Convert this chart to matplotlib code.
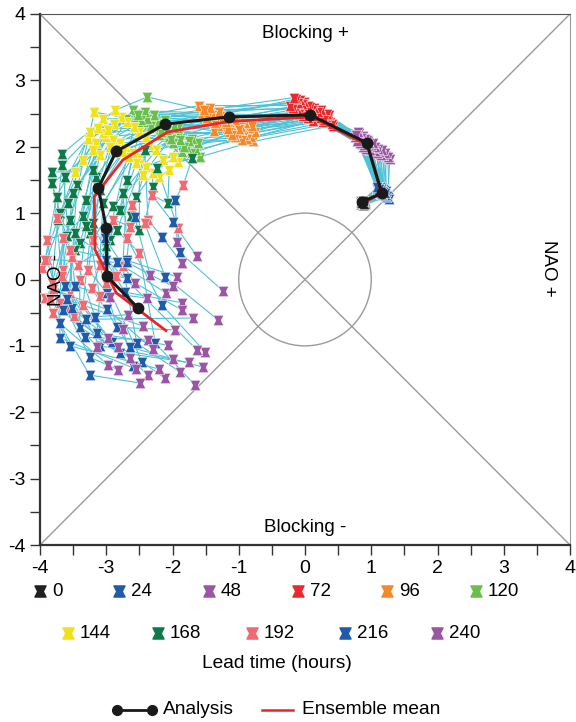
import matplotlib
matplotlib.use("Agg")
import matplotlib.pyplot as plt
from matplotlib.path import Path
from matplotlib.patches import Circle
from matplotlib.lines import Line2D
from matplotlib.ticker import MultipleLocator

plt.rcParams["font.family"] = ["Liberation Sans", "DejaVu Sans"]
plt.rcParams["axes.unicode_minus"] = False

# ------------------------------------------------
# Data: ensemble members (40) at each lead time
# ------------------------------------------------
lead_times = [0, 24, 48, 72, 96, 120, 144, 168, 192, 216, 240]
lead_colors = ["#231f20", "#1f5ba8", "#9a55a5", "#e9292c", "#f5892a", "#6abf4b",
               "#efe21b", "#0e7a4b", "#ef6a72", "#1f5ba8", "#9a55a5"]

x0 = [0.88, 0.86, 0.90, 0.87, 0.89, 0.85, 0.91, 0.88, 0.86, 0.90, 0.87, 0.89, 0.88, 0.85, 0.90, 0.87, 0.89, 0.86, 0.91, 0.88,
      0.87, 0.89, 0.86, 0.90, 0.88, 0.85, 0.89, 0.87, 0.90, 0.86, 0.88, 0.91, 0.87, 0.89, 0.85, 0.88, 0.90, 0.86, 0.89, 0.87]
y0 = [1.15, 1.13, 1.18, 1.16, 1.12, 1.17, 1.14, 1.19, 1.15, 1.13, 1.17, 1.16, 1.12, 1.18, 1.14, 1.15, 1.19, 1.13, 1.16, 1.17,
      1.14, 1.12, 1.18, 1.15, 1.16, 1.13, 1.17, 1.14, 1.19, 1.15, 1.12, 1.16, 1.18, 1.13, 1.15, 1.17, 1.14, 1.16, 1.13, 1.18]

x24 = [1.25, 1.22, 1.27, 1.20, 1.23, 1.18, 1.21, 1.24, 1.16, 1.19, 1.22, 1.15, 1.17, 1.20, 1.13, 1.18, 1.21, 1.14, 1.16, 1.19,
       1.12, 1.15, 1.18, 1.11, 1.14, 1.17, 1.10, 1.13, 1.16, 1.12, 1.15, 1.09, 1.13, 1.11, 1.14, 1.10, 1.12, 1.08, 1.11, 1.09]
y24 = [1.24, 1.27, 1.22, 1.29, 1.25, 1.28, 1.31, 1.26, 1.30, 1.27, 1.33, 1.29, 1.32, 1.28, 1.31, 1.34, 1.30, 1.33, 1.29, 1.35,
       1.32, 1.30, 1.36, 1.33, 1.31, 1.37, 1.34, 1.32, 1.38, 1.35, 1.33, 1.36, 1.39, 1.34, 1.37, 1.40, 1.35, 1.38, 1.36, 1.39]

x48 = [1.28, 1.22, 1.25, 1.18, 1.20, 1.15, 1.12, 1.16, 1.08, 1.10, 1.05, 1.02, 1.06, 0.98, 1.00, 0.96, 1.03, 0.94, 0.92, 0.97,
       0.90, 0.95, 0.88, 0.93, 0.86, 0.91, 0.84, 0.89, 0.85, 0.82, 0.87, 0.80, 0.83, 0.79, 0.84, 0.78, 0.81, 0.76, 0.80, 0.77]
y48 = [1.82, 1.86, 1.84, 1.88, 1.90, 1.87, 1.92, 1.95, 1.90, 1.96, 1.93, 1.98, 2.00, 1.95, 2.02, 1.99, 2.05, 2.01, 1.97, 2.06,
       2.03, 2.08, 2.00, 2.10, 2.04, 2.12, 2.07, 2.02, 2.14, 2.09, 2.16, 2.11, 2.05, 2.18, 2.13, 2.08, 2.20, 2.15, 2.22, 2.17]

x72 = [0.42, 0.38, 0.35, 0.40, 0.32, 0.30, 0.36, 0.27, 0.25, 0.33, 0.22, 0.28, 0.20, 0.18, 0.24, 0.15, 0.12, 0.19, 0.10, 0.14,
       0.08, 0.05, 0.11, 0.02, 0.07, 0.00, -0.03, 0.04, -0.06, -0.01, -0.09, -0.04, -0.12, -0.07, -0.15, -0.10, -0.18, -0.13, -0.22, -0.17]
y72 = [2.32, 2.38, 2.42, 2.35, 2.45, 2.40, 2.48, 2.43, 2.37, 2.50, 2.46, 2.41, 2.52, 2.44, 2.55, 2.49, 2.39, 2.53, 2.47, 2.58,
       2.51, 2.44, 2.56, 2.49, 2.60, 2.53, 2.46, 2.62, 2.55, 2.68, 2.50, 2.64, 2.57, 2.70, 2.52, 2.66, 2.59, 2.72, 2.62, 2.74]

x96 = [-0.78, -0.82, -0.75, -0.88, -0.85, -0.92, -0.80, -0.95, -0.98, -0.90, -1.02, -0.96, -1.05, -1.08, -1.00, -1.12, -1.15, -1.06, -1.18, -1.10,
       -1.22, -1.25, -1.16, -1.28, -1.20, -1.32, -1.35, -1.26, -1.38, -1.30, -1.42, -1.36, -1.45, -1.40, -1.50, -1.44, -1.55, -1.48, -1.60, -1.52]
y96 = [2.08, 2.15, 2.22, 2.12, 2.28, 2.18, 2.32, 2.10, 2.25, 2.36, 2.20, 2.30, 2.14, 2.38, 2.26, 2.33, 2.22, 2.41, 2.29, 2.17,
       2.44, 2.35, 2.27, 2.47, 2.38, 2.31, 2.50, 2.42, 2.24, 2.53, 2.45, 2.36, 2.56, 2.48, 2.40, 2.58, 2.51, 2.44, 2.62, 2.55]

x120 = [-1.58, -1.65, -1.72, -1.62, -1.78, -1.70, -1.85, -1.75, -1.90, -1.82, -1.95, -1.88, -2.00, -1.92, -2.05, -1.98, -2.10, -2.02, -2.15, -2.08,
        -2.20, -2.12, -2.25, -2.18, -2.30, -2.22, -2.35, -2.28, -2.40, -2.32, -2.45, -2.38, -2.50, -2.42, -2.55, -2.48, -2.60, -2.52, -2.70, -2.38]
y120 = [1.85, 1.95, 1.90, 2.05, 1.98, 2.12, 1.92, 2.08, 2.18, 2.00, 2.22, 2.10, 2.05, 2.28, 2.15, 2.32, 2.20, 2.12, 2.36, 2.25,
        2.18, 2.40, 2.30, 2.22, 2.44, 2.35, 2.28, 2.48, 2.38, 2.32, 2.50, 2.42, 2.36, 2.52, 2.45, 2.40, 2.55, 2.48, 2.42, 2.75]

x144 = [-1.92, -2.05, -2.20, -2.00, -2.30, -2.15, -2.40, -2.25, -2.50, -2.35, -2.45, -2.60, -2.40, -2.55, -2.70, -2.50, -2.65, -2.80, -2.58, -2.75,
        -2.90, -2.68, -2.85, -3.00, -2.78, -2.95, -3.05, -2.88, -3.10, -2.98, -3.15, -3.05, -3.20, -3.12, -3.28, -3.18, -3.35, -3.25, -3.47, -2.87]
y144 = [1.77, 1.65, 1.54, 1.85, 1.60, 1.80, 1.70, 1.95, 1.83, 2.02, 1.58, 1.90, 2.15, 1.75, 1.98, 2.22, 1.85, 2.05, 2.30, 1.92,
        2.10, 2.38, 1.96, 2.15, 2.45, 2.00, 2.20, 2.35, 1.88, 2.25, 2.05, 2.42, 1.95, 2.28, 2.12, 2.52, 1.80, 2.22, 1.62, 2.55]

x168 = [-1.70, -2.07, -2.23, -2.42, -2.30, -2.55, -2.62, -2.75, -2.50, -2.84, -2.90, -2.68, -3.05, -2.95, -3.10, -2.80, -3.20, -3.15, -3.00, -3.30,
        -3.25, -3.44, -3.35, -3.20, -3.50, -3.40, -3.47, -3.58, -3.30, -3.62, -3.47, -3.70, -3.55, -3.67, -3.75, -3.60, -3.82, -3.73, -3.82, -3.67]
y168 = [1.83, 1.15, 1.68, 1.95, 1.40, 1.25, 0.95, 1.30, 0.75, 0.74, 1.10, 1.50, 1.15, 0.60, 1.35, 1.05, 0.85, 1.55, 0.50, 1.20,
        0.70, 1.42, 0.95, 1.65, 1.30, 0.55, 0.70, 1.15, 0.80, 1.55, 0.44, 1.00, 0.90, 1.72, 1.25, 0.65, 1.45, 0.90, 1.62, 1.89]

x192 = [-1.84, -2.31, -1.92, -2.37, -2.42, -2.61, -2.64, -2.69, -2.90, -2.50, -3.20, -2.75, -3.10, -3.00, -3.27, -3.22, -2.85, -3.35, -3.43, -3.52,
        -3.10, -3.55, -3.65, -3.40, -3.65, -3.80, -3.60, -3.90, -3.89, -3.70, -3.92, -3.97, -3.82, -3.75, -3.92, -3.80, -3.55, -3.85, -3.67, -3.48]
y192 = [1.42, 1.27, 0.78, 0.90, 0.85, 1.12, 0.79, 0.63, 0.90, 0.40, 0.60, 0.20, 0.22, -0.05, 0.14, -0.13, 0.05, -0.38, 0.22, 0.34,
        -0.25, -0.20, 0.62, 0.00, 0.14, -0.50, -0.45, 0.30, 0.60, -0.35, -0.28, 0.17, -0.05, 0.92, 0.30, -0.15, 0.45, -0.30, 0.05, -0.55]

x216 = [-1.96, -2.00, -1.89, -2.16, -2.11, -2.57, -2.69, -2.16, -3.02, -2.26, -2.72, -2.54, -2.84, -2.46, -2.99, -2.64, -2.69, -2.91, -3.17, -3.47,
        -3.14, -3.32, -3.62, -3.40, -3.52, -3.25, -3.25, -3.65, -3.70, -3.70, -3.55, -3.60, -3.30, -3.00, -2.84, -2.99, -2.69, -2.80, -3.10, -2.60]
y216 = [1.20, 0.87, 0.41, 0.64, 0.04, 0.94, 0.29, -0.38, 0.62, -0.96, -0.19, -0.96, -0.72, -1.24, -0.20, -1.02, 0.02, -0.94, -0.56, -0.10,
        -0.81, -0.87, -0.10, -0.72, -0.43, -1.44, -1.17, -0.46, -0.66, -0.88, -1.00, -0.30, -0.60, 0.30, 0.26, -0.45, 0.26, -1.10, -1.00, -1.30]

x240 = [-1.93, -1.63, -1.24, -1.86, -1.31, -2.34, -1.93, -1.51, -2.57, -1.66, -1.86, -1.89, -1.96, -2.11, -2.39, -1.54, -1.86, -2.37, -2.67, -2.94,
        -2.07, -2.37, -2.97, -2.64, -2.82, -2.49, -2.82, -3.14, -2.97, -2.55, -2.20, -2.45, -1.69, -1.63, -2.10, -2.30, -2.00, -1.75, -2.00, -2.75]
y240 = [0.56, 0.35, -0.17, 0.25, -0.61, 0.07, 0.04, -1.09, -0.05, -1.59, -0.35, -1.39, -0.76, -1.49, -0.28, -1.32, -0.46, -1.44, -0.53, -0.26,
        -0.99, -0.91, -0.88, -1.18, -1.01, -1.56, -1.36, -1.01, -1.29, -1.35, -1.35, -0.70, -0.58, -1.06, -0.20, -1.05, -0.10, -1.25, -1.20, -0.75]

members_x = [x0, x24, x48, x72, x96, x120, x144, x168, x192, x216, x240]
members_y = [y0, y24, y48, y72, y96, y120, y144, y168, y192, y216, y240]

# Analysis and ensemble mean trajectories
analysis_x = [0.86, 1.16, 0.93, 0.08, -1.15, -2.11, -2.85, -3.12, -3.00, -2.99, -2.52]
analysis_y = [1.17, 1.30, 2.06, 2.48, 2.45, 2.34, 1.93, 1.38, 0.78, 0.05, -0.43]
mean_x = [0.88, 1.15, 0.95, 0.10, -1.15, -2.08, -2.75, -3.18, -3.17, -2.85, -2.10]
mean_y = [1.15, 1.30, 2.02, 2.45, 2.38, 2.22, 1.80, 1.25, 0.45, -0.20, -0.77]

# hourglass marker (wide top and bottom, narrow waist)
hourglass = Path([(-1, 1), (1, 1), (0.5, 0), (1, -1), (-1, -1), (-0.5, 0), (-1, 1)],
                 [Path.MOVETO, Path.LINETO, Path.LINETO, Path.LINETO, Path.LINETO, Path.LINETO, Path.CLOSEPOLY])

fig = plt.figure(figsize=(5.76, 7.22), dpi=100)
ax = fig.add_axes([40 / 576, 1 - 545 / 722, 530 / 576, 531 / 722])

# background geometry
ax.plot([-4, 4], [4, -4], color="#9a9a9a", lw=1, zorder=1)
ax.plot([-4, 4], [-4, 4], color="#9a9a9a", lw=1, zorder=1)
ax.add_patch(Circle((0, 0), 1, fill=False, ec="#9a9a9a", lw=1, zorder=1))

# member trajectories
n_mem = len(x0)
for m in range(n_mem):
    ax.plot([lx[m] for lx in members_x], [ly[m] for ly in members_y],
            color="#4fc2d5", lw=0.8, zorder=2)

# markers per lead time
for lx, ly, c in zip(members_x, members_y, lead_colors):
    ax.plot(lx, ly, ls="none", marker=hourglass, ms=7.5, color=c,
            mec="white", mew=0.35, zorder=3)

ax.plot(mean_x, mean_y, color="#e8262a", lw=2, zorder=4)
ax.plot(analysis_x, analysis_y, color="#1a1a1a", lw=2.2, marker="o", ms=7.5, zorder=5)

ax.text(0, 3.71, "Blocking +", ha="center", va="center", fontsize=13.5)
ax.text(0, -3.73, "Blocking -", ha="center", va="center", fontsize=13.5)
ax.text(3.67, 0.17, "NAO +", ha="center", va="center", rotation=270, fontsize=13.5)
ax.text(-3.75, 0.0, "NAO -", ha="center", va="center", rotation=90, fontsize=13.5)

ax.set_xlim(-4, 4)
ax.set_ylim(-4, 4)
ax.set_xticks(range(-4, 5))
ax.set_yticks(range(-4, 5))
ax.xaxis.set_minor_locator(MultipleLocator(0.5))
ax.yaxis.set_minor_locator(MultipleLocator(0.5))
ax.tick_params(which="both", direction="out", length=7, width=1, labelsize=14, color="#333333")
ax.tick_params(top=False, right=False)
for side in ["left", "bottom"]:
    ax.spines[side].set_linewidth(1.6)
    ax.spines[side].set_color("#333333")
ax.spines["top"].set_color("#555555")
ax.spines["top"].set_linewidth(0.8)
ax.spines["right"].set_color("#9a9a9a")
ax.spines["right"].set_linewidth(0.8)

# lead time legend (manual placement)
leg_px = [(40, 591), (119, 591), (209, 591), (298, 591), (387, 591), (476, 591),
          (68, 633), (158, 633), (252, 633), (345, 633), (437, 633)]
for (px, py), lt, c in zip(leg_px, lead_times, lead_colors):
    fig.add_artist(Line2D([px / 576], [1 - py / 722], transform=fig.transFigure,
                          ls="none", marker=hourglass, ms=8, color=c))
    fig.text((px + 12) / 576, 1 - py / 722, str(lt), ha="left", va="center", fontsize=13.5)

fig.text(277 / 576, 1 - 663 / 722, "Lead time (hours)", ha="center", va="center", fontsize=13.8)

# bottom legend
fig.add_artist(Line2D([117 / 576, 152 / 576], [1 - 710 / 722, 1 - 710 / 722], transform=fig.transFigure,
                      color="#1a1a1a", lw=2, marker="o", ms=7))
fig.text(163 / 576, 1 - 710 / 722, "Analysis", ha="left", va="center", fontsize=13.8)
fig.add_artist(Line2D([262 / 576, 293 / 576], [1 - 710 / 722, 1 - 710 / 722], transform=fig.transFigure,
                      color="#e8262a", lw=1.8))
fig.text(302 / 576, 1 - 710 / 722, "Ensemble mean", ha="left", va="center", fontsize=13.8)

fig.savefig("out.png", dpi=100)
